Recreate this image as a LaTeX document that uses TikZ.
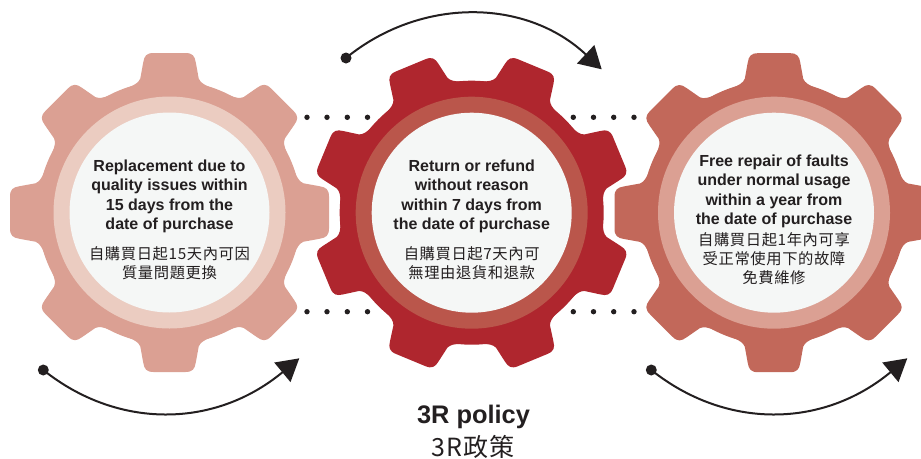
\documentclass[tikz,border=0pt]{standalone}
\usepackage{fontspec}
\setmainfont{Liberation Sans}
\newfontfamily\cjkfont[LetterSpace=4]{Noto Sans CJK TC}
\usetikzlibrary{arrows.meta}
\definecolor{inkc}{HTML}{231F20}
\definecolor{gearA}{HTML}{DBA093}
\definecolor{ringA}{HTML}{EBCCC1}
\definecolor{gearB}{HTML}{AF262E}
\definecolor{ringB}{HTML}{BA564B}
\definecolor{gearC}{HTML}{C2685A}
\definecolor{ringC}{HTML}{DBA093}
\definecolor{faceC}{HTML}{F5F7F6}
\newcommand{\cogwheel}[5]{%
  \begin{scope}[shift={(#1,#2)}]
    \fill[#4] (0,0) circle[radius=132];
    \foreach \ang in {0,45,...,315}{
      \fill[#4,rotate=#3+\ang] (118,-41) -- (125,-41)
        .. controls (128,-34) and (130,-31) .. (134,-29.2)
        -- (150,-26.3) .. controls (156.5,-25.3) and (159.5,-23) .. (159.5,-16)
        -- (159.5,16) .. controls (159.5,23) and (156.5,25.3) .. (150,26.3)
        -- (134,29.2) .. controls (130,31) and (128,34) .. (125,41)
        -- (118,41) -- cycle;
    }
    \fill[#5] (0,0) circle[radius=116];
    \fill[faceC] (0,0) circle[radius=100];
  \end{scope}}
\tikzset{
  entext/.style={align=center,inner sep=0pt,text=inkc,font=\fontsize{16}{19.3}\selectfont\bfseries},
  zhtext/.style={align=center,inner sep=0pt,text=inkc,font=\fontsize{15.3}{19}\selectfont\cjkfont},
  dotc/.style={fill=inkc},
  turn/.style={line width=2pt,draw=inkc,-{Triangle[length=22pt,width=25pt]}},
  title/.style={inner sep=0pt,text=inkc}
}
\begin{document}
\begin{tikzpicture}[x=1pt,y=-1pt]
\useasboundingbox (0,0) rectangle (921,458);
\clip (0,0) rectangle (921,458);
\cogwheel{169.5}{212.5}{0}{gearA}{ringA}
\cogwheel{471.7}{212.7}{22.5}{gearB}{ringB}
\cogwheel{774}{212.7}{0}{gearC}{ringC}
\foreach \yy in {117.3,311.7}{
  \foreach \xx in {307,327,347.3,367.5,573.3,593.5,613.7,634}{
    \fill[dotc] (\xx,\yy) circle[radius=2.7];
  }
}
\node[entext] (ta) at (169.5,196.5) {Replacement due to\\quality issues within\\15 days from the\\date of purchase};
\node[zhtext] (za) at (169.5,263) {自購買日起15天內可因\\質量問題更換};
\node[entext] (tb) at (471.7,196.5) {Return or refund\\without reason\\within 7 days from\\the date of purchase};
\node[zhtext] (zb) at (471.7,263.3) {自購買日起7天內可\\無理由退貨和退款};
\node[entext] (tc) at (774,191.5) {Free repair of faults\\under normal usage\\within a year from\\the date of purchase};
\node[zhtext] (zc) at (774,258.5) {自購買日起1年內可享\\受正常使用下的故障\\免費維修};
\node[title,font=\fontsize{25.4}{28}\selectfont\bfseries] (tt) at (473.5,417) {3R policy};
\node[title,font=\fontsize{25}{28}\selectfont\cjkfont] (tz) at (473,447) {3R政策};
\coordinate (s1) at (346,58);   \coordinate (e1) at (601.7,69.3);
\coordinate (s2) at (43.3,370); \coordinate (e2) at (299.3,358.3);
\coordinate (s3) at (651.3,370);\coordinate (e3) at (907.3,358.3);
\foreach \p in {s1,s2,s3}{\fill[inkc] (\p) circle[radius=5.5];}
\draw[turn] (s1) .. controls (420,-2.5) and (525,-2.5) .. (e1);
\draw[turn] (s2) .. controls (117,429) and (214,429) .. (e2);
\draw[turn] (s3) .. controls (725,429) and (822,429) .. (e3);
\end{tikzpicture}
\end{document}
